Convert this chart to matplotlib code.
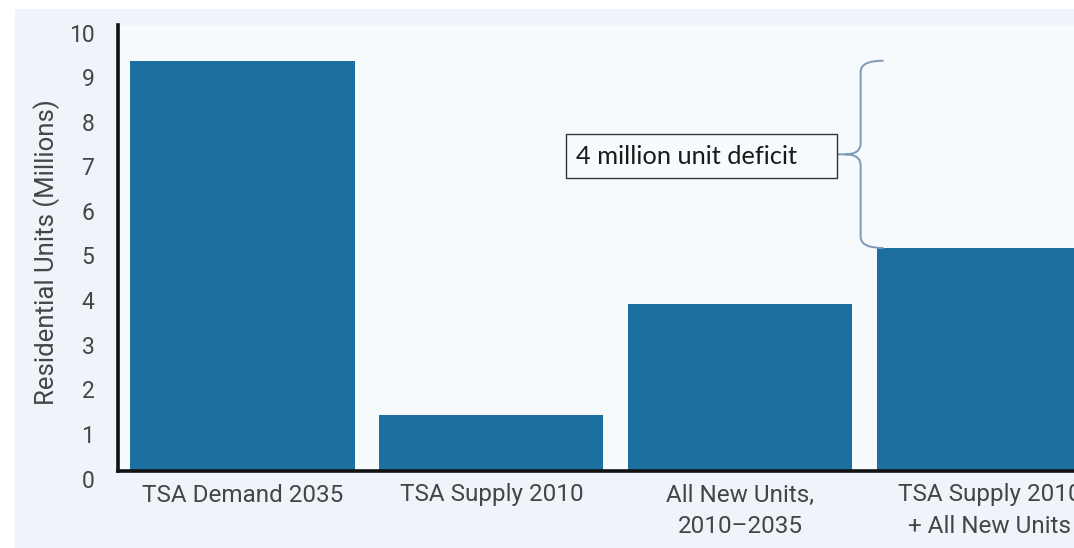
import matplotlib.pyplot as plt
import matplotlib.transforms as mtransforms
from matplotlib.patches import Rectangle, PathPatch
from matplotlib.path import Path

categories = ["TSA Demand 2035", "TSA Supply 2010", "All New Units,\n2010–2035",
              "TSA Supply 2010\n+ All New Units"]
units = [9.2, 1.25, 3.75, 5.0]  # millions
yticks = list(range(0, 11))
deficit_label = "4 million unit deficit"

bar_color = "#1c70a0"
text_color = "#454545"

fig = plt.figure(figsize=(10.74, 5.48), dpi=100)
fig.patch.set_facecolor("white")

# light panel behind the chart
fig.patches.append(Rectangle((15 / 1074, 0), 1, 1 - 9 / 548, transform=fig.transFigure,
                             facecolor="#eef4f9", edgecolor="none", zorder=-1))

ax = fig.add_axes([118 / 1074, 77 / 548, 1 - 118 / 1074, (471 - 25) / 548])
ax.set_facecolor("#f6fafc")

x = list(range(len(categories)))
ax.bar(x, units, width=0.9, color=bar_color, zorder=2)

ax.set_xlim(-0.5, 3.34)
ax.set_ylim(0, 10)
ax.set_yticks(yticks)
ax.set_xticks(x)
ax.set_xticklabels(categories)

for s in ["top", "right"]:
    ax.spines[s].set_visible(False)
for s in ["left", "bottom"]:
    ax.spines[s].set_linewidth(2.6)
    ax.spines[s].set_color("#111111")
    ax.spines[s].set_zorder(3)

ax.tick_params(axis="y", length=0, pad=17, labelsize=16.5, labelcolor=text_color)
ax.tick_params(axis="x", length=0, pad=9, labelsize=17.5, labelcolor=text_color)
for lab in ax.get_yticklabels():
    lab.set_fontfamily("Roboto")
    lab.set_transform(lab.get_transform() +
                      mtransforms.ScaledTranslation(0, -0.075, fig.dpi_scale_trans))
for lab in ax.get_xticklabels():
    lab.set_fontfamily("Roboto")
    lab.set_linespacing(1.45)

fig.text(47 / 1074, 1 - 252 / 548, "Residential Units (Millions)", rotation=90,
         ha="center", va="center", fontsize=18.5, color=text_color,
         fontfamily="Roboto")

# curly brace spanning the gap between demand and supply
top = units[0]
bottom = units[3]
mid = (top + bottom) / 2
xv = 2.483
xh = 2.575
xt = 2.39
r = 0.25
verts = [
    (xh, top), (xv, top), (xv, top - r),
    (xv, mid + r), (xv, mid), (xt + 0.03, mid),
    (xt, mid),
    (xt + 0.03, mid), (xv, mid), (xv, mid - r),
    (xv, bottom + r), (xv, bottom), (xh, bottom),
]
codes = [
    Path.MOVETO, Path.CURVE3, Path.CURVE3,
    Path.LINETO, Path.CURVE3, Path.CURVE3,
    Path.LINETO,
    Path.MOVETO, Path.CURVE3, Path.CURVE3,
    Path.LINETO, Path.CURVE3, Path.CURVE3,
]
ax.add_patch(PathPatch(Path(verts, codes), facecolor="none", edgecolor="#7d99b8",
                       linewidth=1.4, zorder=4, clip_on=False))

# label box
ax.add_patch(Rectangle((1.30, 6.57), 2.39 - 1.30, 0.99, facecolor="#f8fbfd",
                       edgecolor="#333333", linewidth=1.0, zorder=4))
ax.text(1.34, 7.06, deficit_label, ha="left", va="center", fontsize=18.3,
        color="#1a1a1a", fontfamily="Lato", zorder=5)

fig.savefig("out.png", dpi=100, facecolor=fig.get_facecolor())
